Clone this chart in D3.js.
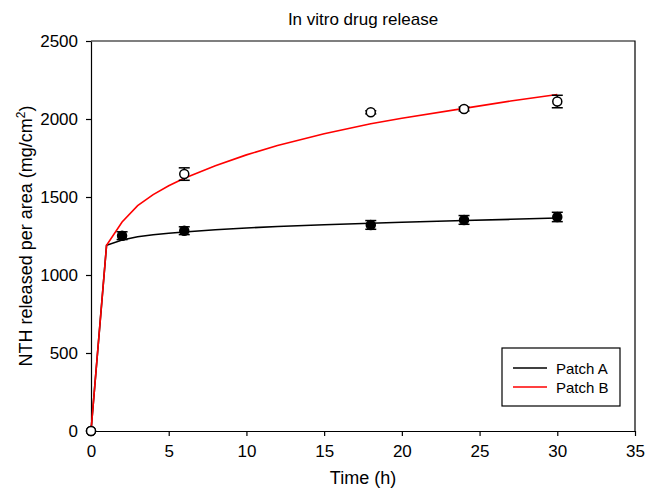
<!DOCTYPE html>
<html>
<head>
<meta charset="utf-8">
<script src="https://cdnjs.cloudflare.com/ajax/libs/d3/7.8.5/d3.min.js"></script>
<style>
  body { margin: 0; background: #fff; }
  text { font-family: "Liberation Sans", Arial, sans-serif; }
</style>
</head>
<body>
<div id="chart"></div>
<script>
// measured points
var times = [0, 2, 6, 18, 24, 30];
var patchA = [0, 1252, 1284, 1321, 1353, 1372];
var patchAErr = [0, 25, 25, 28, 28, 30];
var patchB = [0, null, 1647, 2043, 2064, 2112];
var patchBErr = [0, 0, 40, 10, 12, 40];

// fitted curves
var curveT = [0, 1, 2, 3, 4, 5, 6, 8, 10, 12, 15, 18, 20, 24, 27, 30];
var curveA = [0, 1190, 1225, 1245, 1258, 1268, 1276, 1290, 1301, 1311, 1322, 1332, 1338, 1349, 1357, 1365];
var curveB = [0, 1190, 1340, 1445, 1515, 1572, 1620, 1700, 1770, 1830, 1905, 1970, 2005, 2068, 2115, 2157];

var xTicks = [0, 5, 10, 15, 20, 25, 30, 35];
var yTicks = [0, 500, 1000, 1500, 2000, 2500];

var margin = { left: 91, right: 13, top: 41, bottom: 58 };
var W = 648, H = 489;
var w = W - margin.left - margin.right;
var h = H - margin.top - margin.bottom;

var svg = d3.select("#chart").append("svg")
    .attr("width", W)
    .attr("height", H);

var g = svg.append("g")
    .attr("transform", "translate(" + margin.left + "," + margin.top + ")");

var x = d3.scaleLinear().domain([0, 35]).range([0, w]);
var y = d3.scaleLinear().domain([0, 2500]).range([h, 0]);

// frame top/right
g.append("path")
    .attr("d", "M0,0H" + w + "V" + h)
    .attr("fill", "none")
    .attr("stroke", "#000")
    .attr("stroke-width", 1.2);

var xAxis = g.append("g")
    .attr("transform", "translate(0," + h + ")")
    .call(d3.axisBottom(x).tickValues(xTicks).tickFormat(d3.format("d"))
        .tickSize(5).tickPadding(9).tickSizeOuter(0));
var yAxis = g.append("g")
    .call(d3.axisLeft(y).tickValues(yTicks).tickFormat(d3.format("d"))
        .tickSize(5).tickPadding(8).tickSizeOuter(0));

[xAxis, yAxis].forEach(function (a) {
    a.selectAll("path, line").attr("stroke", "#000").attr("stroke-width", 1.2);
    a.selectAll("text").attr("font-size", 17).attr("fill", "#000")
        .attr("font-family", "'Liberation Sans', Arial, sans-serif");
});

// curves
var line = d3.line()
    .x(function (d) { return x(d[0]); })
    .y(function (d) { return y(d[1]); });

g.append("path")
    .datum(d3.zip(curveT, curveA))
    .attr("d", line)
    .attr("fill", "none")
    .attr("stroke", "#000")
    .attr("stroke-width", 1.6);

g.append("path")
    .datum(d3.zip(curveT, curveB))
    .attr("d", line)
    .attr("fill", "none")
    .attr("stroke", "#ff0000")
    .attr("stroke-width", 1.6);

// points with error bars
function drawSeries(vals, errs, fill) {
    var data = times.map(function (t, i) {
        return { t: t, v: vals[i], e: errs[i] };
    }).filter(function (d) { return d.v !== null; });

    var eb = g.append("g").selectAll("g")
        .data(data.filter(function (d) { return d.e > 0; }))
        .enter().append("g")
        .attr("stroke", "#000")
        .attr("stroke-width", 1.5);
    eb.append("line")
        .attr("x1", function (d) { return x(d.t); })
        .attr("x2", function (d) { return x(d.t); })
        .attr("y1", function (d) { return y(d.v - d.e); })
        .attr("y2", function (d) { return y(d.v + d.e); });
    [-1, 1].forEach(function (s) {
        eb.append("line")
            .attr("x1", function (d) { return x(d.t) - 5.5; })
            .attr("x2", function (d) { return x(d.t) + 5.5; })
            .attr("y1", function (d) { return y(d.v + s * d.e); })
            .attr("y2", function (d) { return y(d.v + s * d.e); });
    });

    g.append("g").selectAll("circle")
        .data(data)
        .enter().append("circle")
        .attr("cx", function (d) { return x(d.t); })
        .attr("cy", function (d) { return y(d.v); })
        .attr("r", 4.5)
        .attr("fill", fill)
        .attr("stroke", "#000")
        .attr("stroke-width", 1.5);
}
drawSeries(patchA, patchAErr, "#000");
drawSeries(patchB, patchBErr, "#fff");

// title + labels
svg.append("text")
    .attr("x", margin.left + w / 2)
    .attr("y", 25)
    .attr("text-anchor", "middle")
    .attr("font-size", 17)
    .text("In vitro drug release");

svg.append("text")
    .attr("x", margin.left + w / 2)
    .attr("y", 484)
    .attr("text-anchor", "middle")
    .attr("font-size", 18)
    .text("Time (h)");

var yl = svg.append("text")
    .attr("transform", "translate(32," + (margin.top + h / 2) + ") rotate(-90)")
    .attr("text-anchor", "middle")
    .attr("font-size", 18);
yl.append("tspan").text("NTH released per area (mg/cm");
yl.append("tspan").attr("dy", -7).attr("font-size", 12).text("2");
yl.append("tspan").attr("dy", 7).text(")");

// legend
var leg = svg.append("g").attr("transform", "translate(502,348)");
leg.append("rect")
    .attr("width", 118).attr("height", 58)
    .attr("fill", "#fff").attr("stroke", "#000").attr("stroke-width", 1.2);
var legNames = ["Patch A", "Patch B"];
var legColors = ["#000", "#ff0000"];
legNames.forEach(function (n, i) {
    leg.append("line")
        .attr("x1", 11).attr("x2", 45)
        .attr("y1", 20 + i * 19).attr("y2", 20 + i * 19)
        .attr("stroke", legColors[i]).attr("stroke-width", 1.6);
    leg.append("text")
        .attr("x", 54).attr("y", 25.5 + i * 19)
        .attr("font-size", 15)
        .text(n);
});
</script>
</body>
</html>
